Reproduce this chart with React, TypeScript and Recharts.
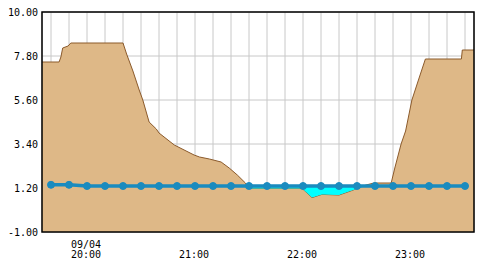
import React from "react";
import {
  ComposedChart,
  Area,
  Line,
  XAxis,
  YAxis,
  CartesianGrid,
  ReferenceArea,
} from "recharts";

// water level (tan area)
const levelTimes = [
  "19:35", "19:44:30", "19:45:30", "19:46:30", "19:49:30", "19:51",
  "20:20", "20:22", "20:25:30", "20:29", "20:31", "20:34:30", "20:38:30",
  "20:40", "20:48:30", "20:59:30", "21:02:30", "21:08", "21:14:30", "21:19",
  "21:23:30", "21:28", "21:30", "21:59:30", "22:05", "22:10:30", "22:20",
  "22:27", "22:35", "22:39:30", "22:49", "22:51", "22:54:30", "22:57",
  "23:00:30", "23:04:30", "23:08", "23:28", "23:28:30", "23:35",
];
const levelValues = [
  7.5, 7.5, 7.75, 8.2, 8.3, 8.45,
  8.45, 7.9, 7.05, 6.1, 5.6, 4.5, 4.15,
  3.95, 3.35, 2.85, 2.75, 2.65, 2.5, 2.2,
  1.85, 1.45, 1.18, 1.18, 0.72, 0.88, 0.85,
  1.07, 1.35, 1.45, 1.45, 2.2, 3.4, 4.05,
  5.6, 6.7, 7.65, 7.65, 8.1, 8.1,
];

// reference line (blue, 10 min)
const refTimes = [
  "19:40", "19:50", "20:00", "20:10", "20:20", "20:30", "20:40", "20:50",
  "21:00", "21:10", "21:20", "21:30", "21:40", "21:50", "22:00", "22:10",
  "22:20", "22:30", "22:40", "22:50", "23:00", "23:10", "23:20", "23:30",
];
const refValues = [
  1.36, 1.36, 1.3, 1.3, 1.3, 1.3, 1.3, 1.3,
  1.3, 1.3, 1.3, 1.3, 1.3, 1.3, 1.3, 1.3,
  1.3, 1.3, 1.3, 1.3, 1.3, 1.3, 1.3, 1.3,
];

const yTicks = [-1, 1.2, 3.4, 5.6, 7.8, 10];
const dateLabel = "09/04";

const toMin = (s: string) => {
  const [h, m, sec] = s.split(":").map(Number);
  return h * 60 + m + (sec || 0) / 60;
};

const refMins = refTimes.map(toMin);
const levelMins = levelTimes.map(toMin);

const refAt = (t: number) => {
  if (t <= refMins[0]) return refValues[0];
  const n = refMins.length - 1;
  if (t >= refMins[n]) return refValues[n];
  let i = 0;
  while (refMins[i + 1] < t) i++;
  const f = (t - refMins[i]) / (refMins[i + 1] - refMins[i]);
  return refValues[i] + f * (refValues[i + 1] - refValues[i]);
};

const rows: Record<number, any> = {};
levelMins.forEach((t, i) => {
  const r = refAt(t);
  rows[t] = { ...(rows[t] || {}), t, level: levelValues[i], below: [Math.min(levelValues[i], r), r] };
});
refMins.forEach((t, i) => {
  rows[t] = { ...(rows[t] || {}), t, ref: refValues[i] };
});
const data = Object.values(rows).sort((a, b) => a.t - b.t);

const xMin = levelMins[0];
const xMax = levelMins[levelMins.length - 1];
const font = "'DejaVu Sans Mono', monospace";

const pad = (n: number) => String(n).padStart(2, "0");

const TimeTick = (props: any) => {
  const { x, y, payload } = props;
  const v = payload.value;
  if (v % 60 !== 0) return null;
  const label = `${pad(Math.floor(v / 60))}:00`;
  const first = v === refMins.find((m) => m % 60 === 0);
  return (
    <g>
      {first && (
        <text x={x - 1} y={y + 16} textAnchor="middle" fontSize={10} fontFamily={font} fill="#000">
          {dateLabel}
        </text>
      )}
      <text x={x - 1} y={y + 26} textAnchor="middle" fontSize={10} fontFamily={font} fill="#000">
        {label}
      </text>
    </g>
  );
};

export default function App() {
  return (
    <div style={{ position: "absolute", left: 0, top: 0, background: "#fff" }}>
      <ComposedChart
        width={480}
        height={265}
        data={data}
        margin={{ top: 12, right: 6, left: 0, bottom: 0 }}
      >
        <XAxis
          dataKey="t"
          type="number"
          domain={[xMin, xMax]}
          ticks={refMins}
          tick={<TimeTick />}
          tickLine={false}
          axisLine={false}
          tickSize={0}
          tickMargin={0}
          height={33}
          interval={0}
        />
        <YAxis
          type="number"
          domain={[-1, 10]}
          ticks={yTicks}
          width={42}
          tickLine={false}
          axisLine={false}
          tickSize={0}
          tickMargin={4}
          interval={0}
          tickFormatter={(v: number) => v.toFixed(2)}
          tick={{ fontSize: 10, fontFamily: font, fill: "#000" }}
        />
        <Area
          type="linear"
          dataKey="level"
          baseValue={-1}
          stroke="#8B5A2B"
          strokeWidth={1}
          fill="#DEB887"
          fillOpacity={1}
          connectNulls
          dot={false}
          activeDot={false}
          isAnimationActive={false}
        />
        <Area
          type="linear"
          dataKey="below"
          stroke="none"
          fill="#00FFFF"
          fillOpacity={1}
          connectNulls
          dot={false}
          activeDot={false}
          isAnimationActive={false}
        />
        <CartesianGrid stroke="#C8C8C8" strokeWidth={1} />
        <Line
          type="linear"
          dataKey="ref"
          stroke="#1A8BBF"
          strokeWidth={3.5}
          connectNulls
          dot={{ r: 3.5, fill: "#1A8BBF", stroke: "#1A8BBF", strokeWidth: 1 }}
          activeDot={false}
          isAnimationActive={false}
        />
        <ReferenceArea
          x1={xMin}
          x2={xMax}
          y1={-1}
          y2={10}
          fill="none"
          stroke="#000"
          strokeWidth={1.5}
          ifOverflow="visible"
        />
      </ComposedChart>
    </div>
  );
}
